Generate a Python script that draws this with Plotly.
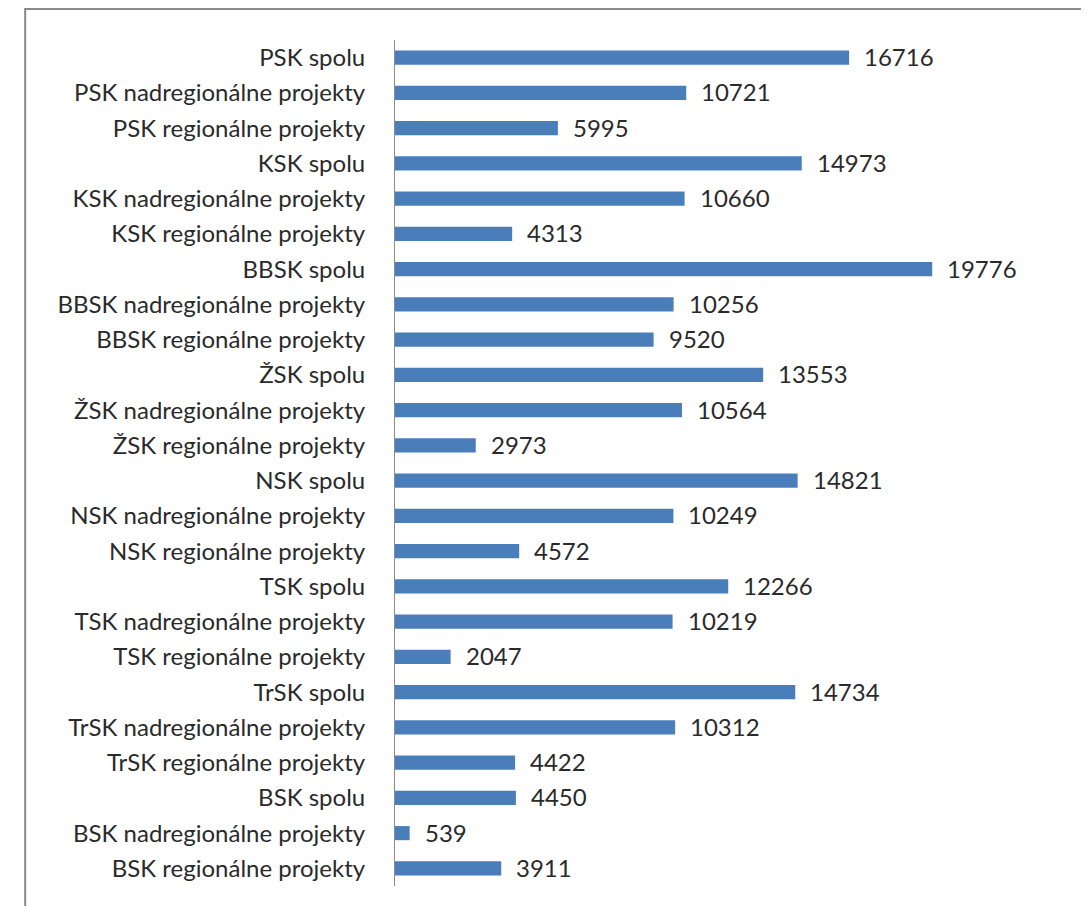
import plotly.graph_objects as go

categories = [
    "PSK spolu", "PSK nadregionálne projekty", "PSK regionálne projekty",
    "KSK spolu", "KSK nadregionálne projekty", "KSK regionálne projekty",
    "BBSK spolu", "BBSK nadregionálne projekty", "BBSK regionálne projekty",
    "ŽSK spolu", "ŽSK nadregionálne projekty", "ŽSK regionálne projekty",
    "NSK spolu", "NSK nadregionálne projekty", "NSK regionálne projekty",
    "TSK spolu", "TSK nadregionálne projekty", "TSK regionálne projekty",
    "TrSK spolu", "TrSK nadregionálne projekty", "TrSK regionálne projekty",
    "BSK spolu", "BSK nadregionálne projekty", "BSK regionálne projekty",
]
values = [
    16716, 10721, 5995,
    14973, 10660, 4313,
    19776, 10256, 9520,
    13553, 10564, 2973,
    14821, 10249, 4572,
    12266, 10219, 2047,
    14734, 10312, 4422,
    4450, 539, 3911,
]

FONT = "Lato, Open Sans, sans-serif"
FS = 24

fig = go.Figure(go.Bar(
    x=values, y=categories, orientation="h",
    marker=dict(color="#4a7ebb", line=dict(width=0)),
    width=0.4,
))

for c, v in zip(categories, values):
    fig.add_annotation(x=v, y=c, text=str(v), showarrow=False,
                       xanchor="left", xshift=13, yshift=1,
                       font=dict(family=FONT, size=FS, color="#2a2a2a"))

fig.add_shape(type="rect", xref="paper", yref="paper",
              x0=-0.536, x1=1.2, y0=-0.2, y1=1.0366,
              line=dict(color="#8a8a8a", width=2), fillcolor="rgba(0,0,0,0)",
              layer="below")

fig.update_layout(
    width=1081, height=898,
    margin=dict(l=387, r=4, t=32, b=20),
    paper_bgcolor="white", plot_bgcolor="white",
    showlegend=False,
    font=dict(family=FONT, size=FS, color="#2a2a2a"),
    xaxis=dict(range=[0, 25400], visible=False, showgrid=False, zeroline=False),
    yaxis=dict(autorange="reversed", showline=True, linecolor="#8c8c8c", linewidth=1,
               ticks="", showgrid=False, ticklabelstandoff=24,
               tickfont=dict(family=FONT, size=FS, color="#2a2a2a")),
)

fig.write_html("out.html")
